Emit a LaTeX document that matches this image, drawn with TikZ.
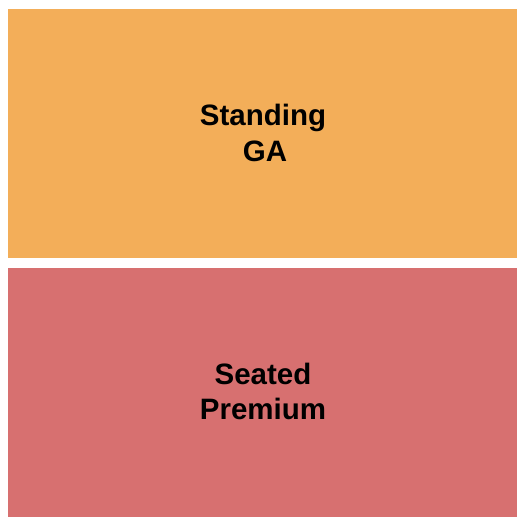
\documentclass[tikz,border=0pt]{standalone}
\usepackage{fontspec}
\setmainfont{Liberation Sans}
\definecolor{ga}{HTML}{F3AE59}
\definecolor{prem}{HTML}{D77070}
\begin{document}
\begin{tikzpicture}[x=1pt,y=-1pt,
  lbl/.style={inner sep=0pt,anchor=base,font=\fontsize{29.5}{34}\selectfont\bfseries,text=black}]
\useasboundingbox (0,0) rectangle (525,525);
\fill[white] (0,0) rectangle (525,525);
\fill[ga] (8,9) rectangle (517,258);
\fill[prem] (8,268) rectangle (517,517);
\node[lbl] (s1) at (263,125.3) {Standing};
\node[lbl] (s2) at (265,161) {GA};
\node[lbl] (p1) at (263,384) {Seated};
\node[lbl] (p2) at (263,419) {Premium};
\end{tikzpicture}
\end{document}
